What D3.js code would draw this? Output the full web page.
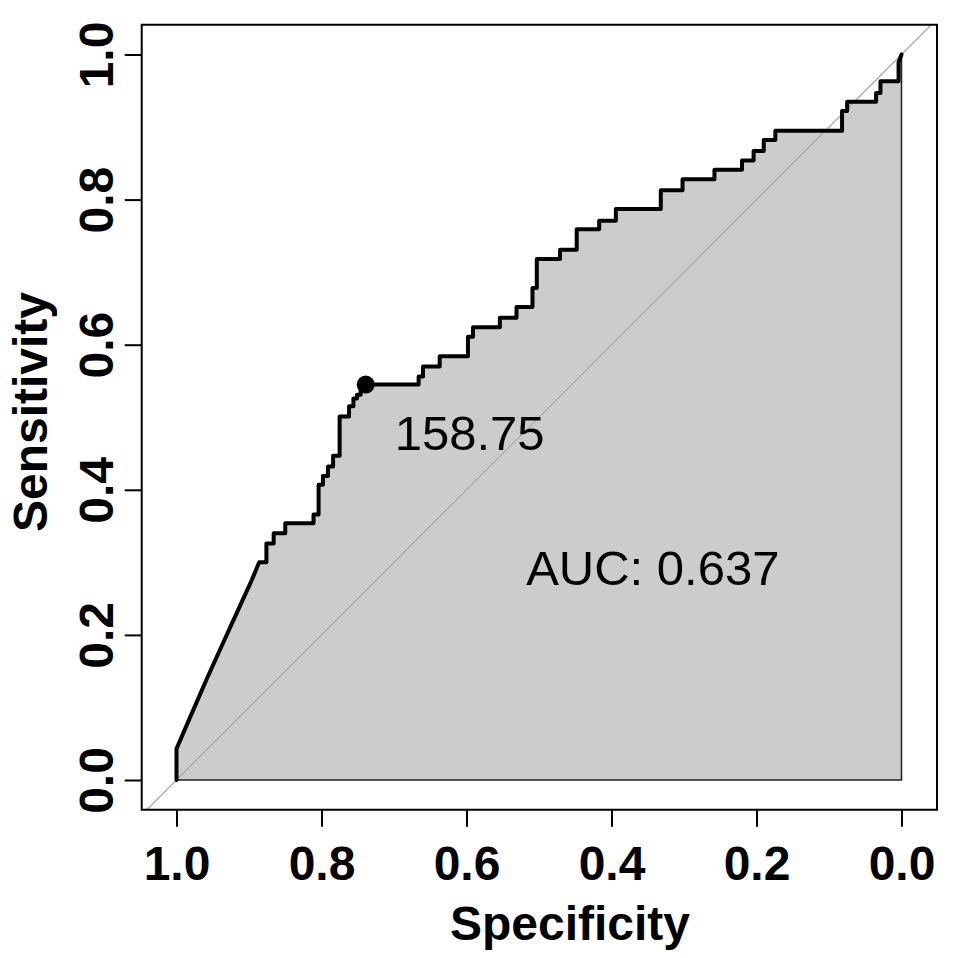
<!DOCTYPE html>
<html>
<head>
<meta charset="utf-8">
<script src="https://cdn.jsdelivr.net/npm/d3@7"></script>
<style>
  body { margin: 0; background: #fff; }
  text { font-family: "Liberation Sans", Arial, sans-serif; }
</style>
</head>
<body>
<div id="chart"></div>
<script>
// ROC curve vertices (specificity, sensitivity)
const specificity = [
  1, 1, 0.981, 0.958, 0.938, 0.917, 0.896, 0.886,
  0.876, 0.876, 0.866, 0.866, 0.850, 0.850, 0.811, 0.811, 0.804, 0.804,
  0.798, 0.798, 0.791, 0.791, 0.784, 0.784, 0.775, 0.775, 0.762, 0.762,
  0.756, 0.756, 0.751, 0.751, 0.746, 0.746, 0.739, 0.739,
  0.666, 0.666, 0.660, 0.660, 0.637, 0.637, 0.598, 0.598, 0.591, 0.591,
  0.554, 0.554, 0.531, 0.531, 0.509, 0.509, 0.503, 0.503, 0.471, 0.471,
  0.448, 0.448, 0.417, 0.417, 0.394, 0.394, 0.332, 0.332, 0.302, 0.302,
  0.258, 0.258, 0.220, 0.220, 0.204, 0.204, 0.190, 0.190, 0.174, 0.174,
  0.082, 0.082, 0.075, 0.075, 0.035, 0.035, 0.029, 0.029, 0.004, 0.004, 0
];
const sensitivity = [
  0, 0.043, 0.087, 0.140, 0.184, 0.230, 0.276, 0.300,
  0.300, 0.326, 0.326, 0.340, 0.340, 0.354, 0.354, 0.366, 0.366, 0.407,
  0.407, 0.419, 0.419, 0.432, 0.432, 0.447, 0.447, 0.501, 0.501, 0.515,
  0.515, 0.526, 0.526, 0.531, 0.531, 0.541, 0.541, 0.545,
  0.545, 0.556, 0.556, 0.570, 0.570, 0.584, 0.584, 0.611, 0.611, 0.624,
  0.624, 0.637, 0.637, 0.652, 0.652, 0.678, 0.678, 0.718, 0.718, 0.731,
  0.731, 0.759, 0.759, 0.771, 0.771, 0.787, 0.787, 0.813, 0.813, 0.828,
  0.828, 0.841, 0.841, 0.854, 0.854, 0.867, 0.867, 0.882, 0.882, 0.895,
  0.895, 0.922, 0.922, 0.935, 0.935, 0.947, 0.947, 0.963, 0.963, 0.989, 1
];
const tickValues = [1, 0.8, 0.6, 0.4, 0.2, 0];
const bestThreshold = { label: '158.75', spec: 0.739, sens: 0.545 };
const aucLabel = 'AUC: 0.637';

const width = 955;
const height = 958;

const svg = d3.select('#chart')
  .append('svg')
  .attr('width', width)
  .attr('height', height);

const x = d3.scaleLinear().domain([1, 0]).range([176.5, 901.5]);
const y = d3.scaleLinear().domain([0, 1]).range([780, 54.5]);

// plot region a bit wider than the data, like R's usr
const box = { left: x(1.048), right: x(-0.049), top: y(1.041), bottom: y(-0.041) };

const points = specificity.map((s, i) => [s, sensitivity[i]]);

// AUC polygon
const area = d3.area()
  .x(d => x(d[0]))
  .y0(y(0))
  .y1(d => y(d[1]));

svg.append('path')
  .datum(points)
  .attr('d', area)
  .attr('fill', '#cccccc')
  .attr('stroke', '#222')
  .attr('stroke-width', 1.5);

// identity line
svg.append('line')
  .attr('x1', x(1.041)).attr('y1', y(-0.041))
  .attr('x2', x(-0.041)).attr('y2', y(1.041))
  .attr('stroke', '#a8a8a8')
  .attr('stroke-width', 1.2);

// ROC curve
const line = d3.line()
  .x(d => x(d[0]))
  .y(d => y(d[1]));

svg.append('path')
  .datum(points)
  .attr('d', line)
  .attr('fill', 'none')
  .attr('stroke', '#000')
  .attr('stroke-width', 4)
  .attr('stroke-linejoin', 'round')
  .attr('stroke-linecap', 'round');

// best threshold
svg.append('circle')
  .attr('cx', x(bestThreshold.spec))
  .attr('cy', y(bestThreshold.sens))
  .attr('r', 9)
  .attr('fill', '#000');

svg.append('text')
  .attr('x', x(bestThreshold.spec) + 29)
  .attr('y', y(bestThreshold.sens) + 65)
  .attr('font-size', 49)
  .attr('fill', '#000')
  .text(bestThreshold.label);

svg.append('text')
  .attr('x', x(0.343))
  .attr('y', y(0.269))
  .attr('text-anchor', 'middle')
  .attr('font-size', 49)
  .attr('fill', '#000')
  .text(aucLabel);

// frame
svg.append('rect')
  .attr('x', box.left)
  .attr('y', box.top)
  .attr('width', box.right - box.left)
  .attr('height', box.bottom - box.top)
  .attr('fill', 'none')
  .attr('stroke', '#000')
  .attr('stroke-width', 2);

// axes
const xAxis = svg.append('g')
  .attr('transform', `translate(0,${box.bottom})`)
  .call(d3.axisBottom(x).tickValues(tickValues).tickSize(17).tickFormat(d3.format('.1f')));
xAxis.select('.domain').remove();
xAxis.selectAll('line').attr('stroke', '#000').attr('stroke-width', 2);
xAxis.selectAll('text')
  .attr('y', 70)
  .attr('dy', 0)
  .attr('font-size', 48)
  .attr('font-weight', 'bold')
  .attr('fill', '#000')
  .style('font-family', '"Liberation Sans", Arial, sans-serif');

const yAxis = svg.append('g')
  .attr('transform', `translate(${box.left},0)`)
  .call(d3.axisLeft(y).tickValues(tickValues).tickSize(17).tickFormat(d3.format('.1f')));
yAxis.select('.domain').remove();
yAxis.selectAll('line').attr('stroke', '#000').attr('stroke-width', 2);
yAxis.selectAll('text')
  .attr('x', 0)
  .attr('dy', 0)
  .attr('text-anchor', 'middle')
  .attr('transform', 'translate(-29,0) rotate(-90)')
  .attr('font-size', 48)
  .attr('font-weight', 'bold')
  .attr('fill', '#000')
  .style('font-family', '"Liberation Sans", Arial, sans-serif');

// axis titles
svg.append('text')
  .attr('x', 570)
  .attr('y', 940)
  .attr('text-anchor', 'middle')
  .attr('font-size', 48)
  .attr('font-weight', 'bold')
  .text('Specificity');

svg.append('text')
  .attr('transform', 'translate(47,412) rotate(-90)')
  .attr('text-anchor', 'middle')
  .attr('font-size', 48)
  .attr('font-weight', 'bold')
  .text('Sensitivity');
</script>
</body>
</html>
